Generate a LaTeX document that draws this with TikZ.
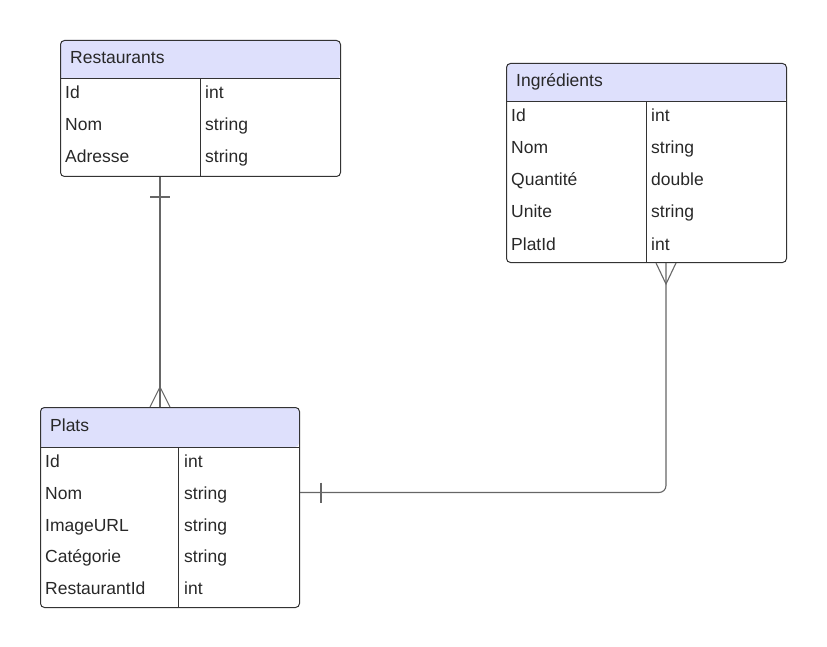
\documentclass[tikz,border=0pt]{standalone}
\usepackage{fontspec}
\setmainfont{Liberation Sans}
\usetikzlibrary{calc}
\definecolor{headfill}{RGB}{222,224,252}
\definecolor{boxline}{RGB}{51,51,51}
\definecolor{txt}{RGB}{40,40,40}
\definecolor{connline}{RGB}{102,102,102}
\tikzset{
  tablebox/.style={draw=boxline, line width=1pt, rounded corners=4pt, inner sep=0pt, anchor=north west},
  lbl/.style={anchor=base west, inner sep=0pt, text=txt, font=\fontsize{17.5}{21}\selectfont},
  conn/.style={draw=connline, line width=1.1pt},
  divline/.style={draw=boxline, line width=1pt},
}
\begin{document}
\begin{tikzpicture}[x=1pt,y=-1pt]
\useasboundingbox (0,0) rectangle (827,647);
% ---------- Restaurants ----------
\fill[headfill, rounded corners=4pt] (60,79) |- (200,40) -| (340,79) [sharp corners] -- cycle;
\node[tablebox, minimum width=280pt, minimum height=136pt] (rest) at (60,40) {};
\draw[divline] (60,79) -- (340,79);
\draw[divline] (200,79) -- (200,176);
\node[lbl] (restT) at (70,64) {Restaurants};
\node[lbl] (r1a) at (65,99) {Id};       \node[lbl] (r1b) at (205,99) {int};
\node[lbl] (r2a) at (65,131) {Nom};     \node[lbl] (r2b) at (205,131) {string};
\node[lbl] (r3a) at (65,163) {Adresse}; \node[lbl] (r3b) at (205,163) {string};
% ---------- Ingredients ----------
\fill[headfill, rounded corners=4pt] (506,102) |- (646,63) -| (786,102) [sharp corners] -- cycle;
\node[tablebox, minimum width=280pt, minimum height=199pt] (ingr) at (506,63) {};
\draw[divline] (506,102) -- (786,102);
\draw[divline] (646,102) -- (646,262);
\node[lbl] (ingrT) at (516,87) {Ingrédients};
\node[lbl] (i1a) at (511,122) {Id};        \node[lbl] (i1b) at (651,122) {int};
\node[lbl] (i2a) at (511,154) {Nom};       \node[lbl] (i2b) at (651,154) {string};
\node[lbl] (i3a) at (511,186) {Quantité};  \node[lbl] (i3b) at (651,186) {double};
\node[lbl] (i4a) at (511,218) {Unite};     \node[lbl] (i4b) at (651,218) {string};
\node[lbl] (i5a) at (511,250) {PlatId};    \node[lbl] (i5b) at (651,250) {int};
% ---------- Plats ----------
\fill[headfill, rounded corners=4pt] (40,447) |- (170,407) -| (299,447) [sharp corners] -- cycle;
\node[tablebox, minimum width=259pt, minimum height=200pt] (plats) at (40,407) {};
\draw[divline] (40,447) -- (299,447);
\draw[divline] (178.5,447) -- (178.5,607);
\node[lbl] (platsT) at (50,431) {Plats};
\node[lbl] (p1a) at (45,467) {Id};           \node[lbl] (p1b) at (184,467) {int};
\node[lbl] (p2a) at (45,499) {Nom};          \node[lbl] (p2b) at (184,499) {string};
\node[lbl] (p3a) at (45,531) {ImageURL};     \node[lbl] (p3b) at (184,531) {string};
\node[lbl] (p4a) at (45,562) {Catégorie};    \node[lbl] (p4b) at (184,562) {string};
\node[lbl] (p5a) at (45,594) {RestaurantId}; \node[lbl] (p5b) at (184,594) {int};
% ---------- connectors ----------
\coordinate (cRest) at ($(rest.south west)+(100,0)$);
\coordinate (cPlatsTop) at ($(plats.north west)+(120,0)$);
\coordinate (cPlatsRight) at ($(plats.north east)+(0,85.5)$);
\coordinate (cIngr) at ($(ingr.south west)+(160,0)$);
% Restaurants (one) -- Plats (many)
\draw[conn] (cRest) -- (cPlatsTop);
\draw[conn] ($(cRest)+(-10,20)$) -- ($(cRest)+(10,20)$);
\draw[conn] ($(cPlatsTop)+(-10,0)$) -- ($(cPlatsTop)+(0,-20)$) -- ($(cPlatsTop)+(10,0)$);
% Plats (one) -- Ingredients (many)
\draw[conn, rounded corners=7pt] (cPlatsRight) -| (cIngr);
\draw[conn] ($(cPlatsRight)+(21,-10)$) -- ($(cPlatsRight)+(21,10)$);
\draw[conn] ($(cIngr)+(-10,0)$) -- ($(cIngr)+(0,21)$) -- ($(cIngr)+(10,0)$);
\end{tikzpicture}
\end{document}
